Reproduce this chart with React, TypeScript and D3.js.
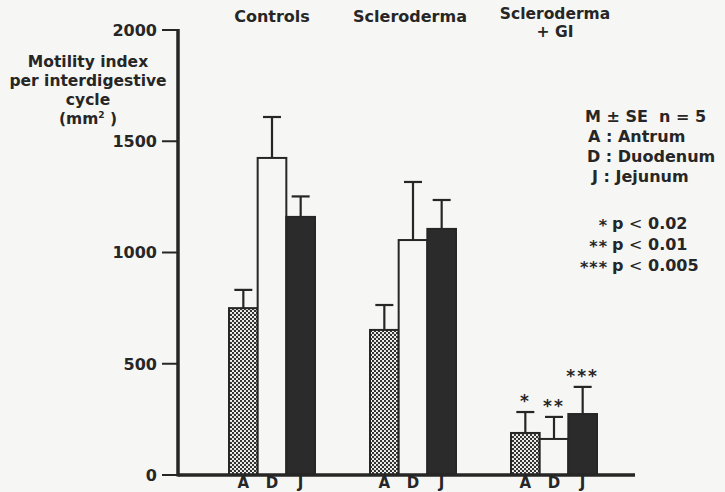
import React from "react";
import * as d3 from "d3";

const groups = ["Controls", "Scleroderma", "Scleroderma + GI"];
const segments = ["A", "D", "J"];
const means = [
  [750, 1425, 1160],
  [652, 1056, 1106],
  [189, 162, 274],
];
const errors = [
  [82, 184, 92],
  [112, 261, 130],
  [94, 99, 122],
];
const stars = [
  ["", "", ""],
  ["", "", ""],
  ["*", "**", "***"],
];
const yTicks = [0, 500, 1000, 1500, 2000];
const yTitle = ["Motility index", "per interdigestive", "cycle"];
const legendLines = ["M \u00b1 SE  n = 5", "A : Antrum", "D : Duodenum", "J : Jejunum"];
const pStars = ["*", "**", "***"];
const pValues = ["0.02", "0.01", "0.005"];

const W = 725;
const H = 492;
const INK = "#262626";
const FONT = "'DejaVu Sans', sans-serif";

export default function App() {
  const y = d3.scaleLinear().domain([0, 2000]).range([475, 30]);
  const gx = d3.scalePoint<string>().domain(groups).range([272, 554]);
  const bx = d3.scaleBand<string>().domain(segments).range([-43, 43]);
  const axisX = 178;
  const capW = 18;

  return (
    <svg
      width={W}
      height={H}
      style={{ position: "absolute", left: 0, top: 0 }}
      fontFamily={FONT}
    >
      <defs>
        <pattern id="dots" width={4} height={4} patternUnits="userSpaceOnUse">
          <rect width={4} height={4} fill="#f4f4f2" />
          <circle cx={1} cy={1} r={1.15} fill="#2a2a2a" />
          <circle cx={3} cy={3} r={1.15} fill="#2a2a2a" />
        </pattern>
      </defs>
      <rect width={W} height={H} fill="#f6f6f4" />

      {/* bars */}
      {groups.map((g, gi) =>
        segments.map((s, si) => {
          const x0 = (gx(g) as number) + (bx(s) as number);
          const w = bx.bandwidth();
          const v = means[gi][si];
          const top = y(v);
          const cx = x0 + w / 2;
          const eTop = y(v + errors[gi][si]);
          const fill = s === "A" ? "url(#dots)" : s === "D" ? "#f6f6f4" : "#2b2b2b";
          return (
            <g key={g + s}>
              <line x1={cx} x2={cx} y1={top} y2={eTop} stroke={INK} strokeWidth={2.2} />
              <line x1={cx - capW / 2} x2={cx + capW / 2} y1={eTop} y2={eTop} stroke={INK} strokeWidth={2.2} />
              <rect
                x={x0}
                y={top}
                width={w}
                height={y(0) - top}
                fill={fill}
                stroke={INK}
                strokeWidth={2}
              />
              {stars[gi][si] && (
                <text
                  x={cx}
                  y={eTop - 5}
                  textAnchor="middle"
                  fontSize={17}
                  fontWeight="bold"
                  fill={INK}
                  letterSpacing={2}
                >
                  {stars[gi][si]}
                </text>
              )}
              <text x={cx} y={488} textAnchor="middle" fontSize={15} fontWeight="bold" fill={INK}>
                {s}
              </text>
            </g>
          );
        })
      )}

      {/* axes */}
      <line x1={axisX} x2={axisX} y1={y(2000) - 1} y2={y(0) + 1.5} stroke={INK} strokeWidth={3.5} />
      <line x1={axisX} x2={635} y1={y(0)} y2={y(0)} stroke={INK} strokeWidth={3.5} />
      {yTicks.map((t) => (
        <g key={t}>
          <line x1={axisX - 16} x2={axisX} y1={y(t)} y2={y(t)} stroke={INK} strokeWidth={2} />
          <text
            x={axisX - 21}
            y={y(t)}
            dy="0.36em"
            textAnchor="end"
            fontSize={16}
            fontWeight="bold"
            fill={INK}
          >
            {t}
          </text>
        </g>
      ))}

      {/* y title */}
      {yTitle.map((l, i) => (
        <text key={l} x={88} y={67 + i * 19} textAnchor="middle" fontSize={15.5} fontWeight="bold" fill={INK}>
          {l}
        </text>
      ))}
      <text x={88} y={124} textAnchor="middle" fontSize={15.5} fontWeight="bold" fill={INK}>
        (mm<tspan fontSize={9} dy={-6}>2</tspan>
        <tspan dy={6}> )</tspan>
      </text>

      {/* group labels */}
      <text x={gx("Controls")} y={22} textAnchor="middle" fontSize={16} fontWeight="bold" fill={INK}>
        Controls
      </text>
      <text x={(gx("Scleroderma") as number) - 3} y={22} textAnchor="middle" fontSize={16} fontWeight="bold" fill={INK}>
        Scleroderma
      </text>
      <text x={(gx("Scleroderma + GI") as number) + 1} y={19} textAnchor="middle" fontSize={15.5} fontWeight="bold" fill={INK}>
        Scleroderma
      </text>
      <text x={(gx("Scleroderma + GI") as number) + 1} y={37} textAnchor="middle" fontSize={15.5} fontWeight="bold" fill={INK}>
        + GI
      </text>

      {/* legend */}
      {legendLines.map((l, i) => (
        <text
          key={l}
          x={[585, 588, 587, 592][i]}
          y={122 + i * 20}
          fontSize={16}
          fontWeight="bold"
          fill={INK}
          xmlSpace="preserve"
        >
          {l}
        </text>
      ))}
      {pStars.map((s, i) => (
        <g key={s}>
          <text x={608} y={231 + i * 21} textAnchor="end" fontSize={16} fontWeight="bold" fill={INK} letterSpacing={1}>
            {s}
          </text>
          <text x={612} y={229 + i * 21} fontSize={16} fontWeight="bold" fill={INK}>
            p <tspan fontWeight="normal">&lt;</tspan> {pValues[i]}
          </text>
        </g>
      ))}
    </svg>
  );
}
